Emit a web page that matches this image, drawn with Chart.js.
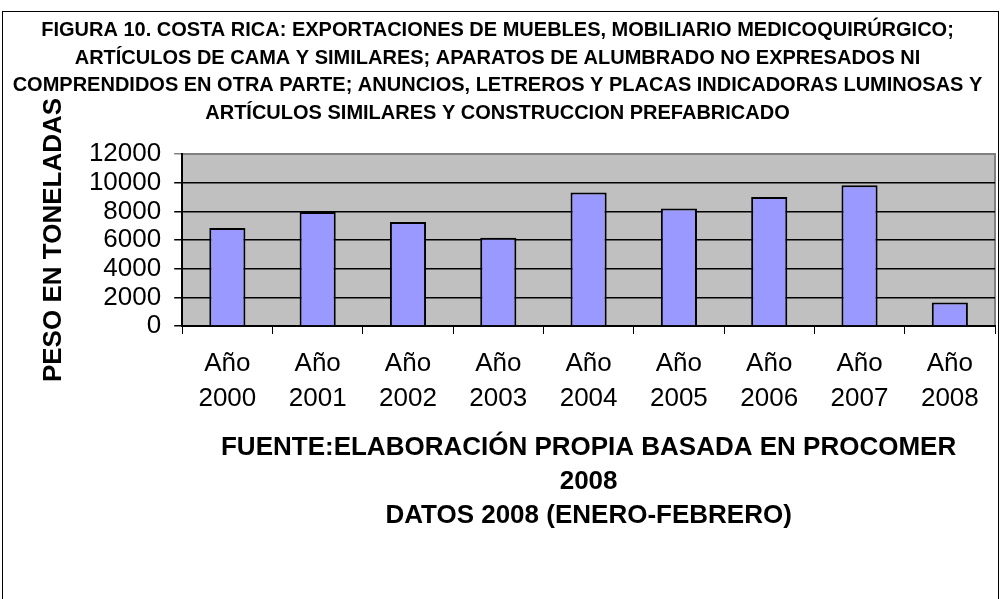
<!DOCTYPE html>
<html>
<head>
<meta charset="utf-8">
<script src="https://cdn.jsdelivr.net/npm/chart.js@4/dist/chart.umd.min.js"></script>
<style>
  html, body { margin: 0; padding: 0; background: #fff; }
  #wrap { width: 1000px; height: 599px; }
</style>
</head>
<body>
<div id="wrap"><canvas id="myChart" width="1000" height="599"></canvas></div>
<script>
// datos
const categorias = [
  ["Año", "2000"], ["Año", "2001"], ["Año", "2002"], ["Año", "2003"], ["Año", "2004"],
  ["Año", "2005"], ["Año", "2006"], ["Año", "2007"], ["Año", "2008"]
];
const toneladas = [6830, 7950, 7250, 6150, 9310, 8190, 9000, 9820, 1640];
const titulo = [
  "FIGURA 10. COSTA RICA: EXPORTACIONES DE MUEBLES, MOBILIARIO MEDICOQUIRÚRGICO;",
  "ARTÍCULOS DE CAMA Y SIMILARES; APARATOS DE ALUMBRADO NO EXPRESADOS NI",
  "COMPRENDIDOS EN OTRA PARTE; ANUNCIOS, LETREROS Y PLACAS INDICADORAS LUMINOSAS Y",
  "ARTÍCULOS SIMILARES Y CONSTRUCCION PREFABRICADO"
];
const tituloY = "PESO EN TONELADAS";
const fuente = [
  "FUENTE:ELABORACIÓN PROPIA BASADA EN PROCOMER",
  "2008",
  "DATOS 2008 (ENERO-FEBRERO)"
];

Chart.defaults.font.family = "'Liberation Sans', Arial, sans-serif";
Chart.defaults.color = "#000";

// fondo, marco y area gris
const fondo = {
  id: "fondo",
  beforeDraw(chart) {
    const { ctx, chartArea: a } = chart;
    ctx.save();
    ctx.fillStyle = "#fff";
    ctx.fillRect(0, 0, chart.width, chart.height);
    ctx.strokeStyle = "#000";
    ctx.lineWidth = 1;
    ctx.strokeRect(2.5, 11.5, 996, 600);
    ctx.fillStyle = "#c0c0c0";
    ctx.fillRect(a.left, a.top, a.right - a.left, a.bottom - a.top);
    ctx.strokeStyle = "#808080";
    ctx.lineWidth = 2;
    ctx.beginPath();
    ctx.moveTo(a.left, a.top);
    ctx.lineTo(a.right, a.top);
    ctx.lineTo(a.right, a.bottom);
    ctx.stroke();
    ctx.restore();
  }
};

const data = {
  labels: categorias,
  datasets: [{
    data: toneladas,
    backgroundColor: "#9999ff",
    borderColor: "#000",
    borderWidth: 2,
    barPercentage: 0.4,
    categoryPercentage: 1.0
  }]
};

const config = {
  type: "bar",
  data: data,
  options: {
    responsive: false,
    animation: false,
    layout: { padding: { left: 0, right: 5, top: 0, bottom: 66 } },
    plugins: {
      legend: { display: false },
      tooltip: { enabled: false },
      title: {
        display: true,
        text: titulo,
        color: "#000",
        font: { size: 20, weight: "bold", lineHeight: 1.375 },
        padding: { top: 17, bottom: 27 }
      }
    },
    scales: {
      x: {
        grid: {
          offset: true,
          drawOnChartArea: false,
          drawTicks: true,
          tickLength: 8,
          color: "#000",
          lineWidth: 1
        },
        border: { color: "#000", width: 2 },
        ticks: {
          font: { size: 26, lineHeight: 1.365 },
          padding: 12,
          maxRotation: 0,
          autoSkip: false
        },
        title: {
          display: true,
          text: fuente,
          font: { size: 26, weight: "bold", lineHeight: 1.3077 },
          padding: { top: 2, bottom: 0 }
        }
      },
      y: {
        min: 0,
        max: 12000,
        ticks: {
          stepSize: 2000,
          autoSkip: false,
          font: { size: 26 },
          padding: 13,
          callback: (v) => String(v)
        },
        grid: {
          drawTicks: true,
          tickLength: 8,
          color: (c) => (c.tick && c.tick.value === 12000 ? "#808080" : "#000"),
          lineWidth: 1.5
        },
        border: { color: "#000", width: 2 },
        title: {
          display: true,
          text: tituloY,
          font: { size: 26, weight: "bold", lineHeight: 1.15 },
          padding: { top: 39, bottom: 7 }
        }
      }
    }
  },
  plugins: [fondo]
};

const myChart = new Chart(document.getElementById("myChart"), config);
</script>
</body>
</html>
